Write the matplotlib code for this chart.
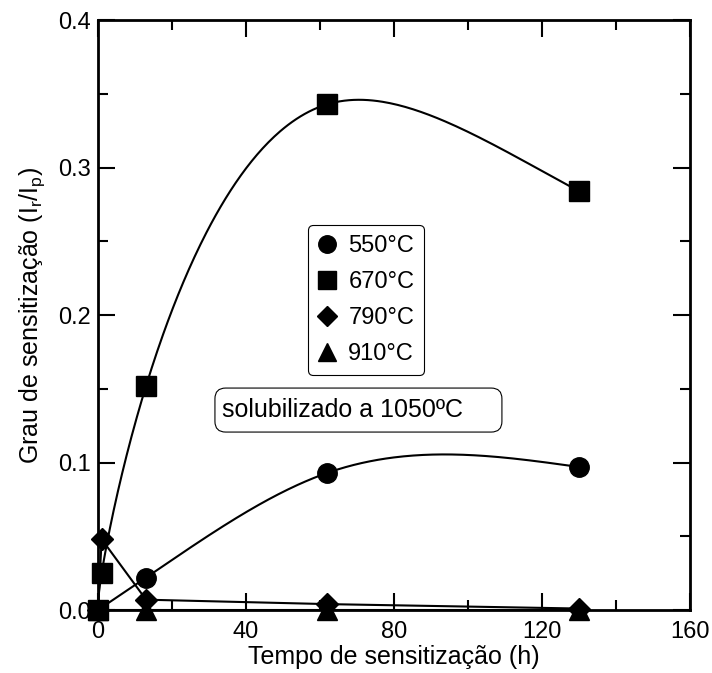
import numpy as np
import matplotlib
matplotlib.use('Agg')
import matplotlib.pyplot as plt
from matplotlib.patches import FancyBboxPatch
from matplotlib.ticker import MultipleLocator, FormatStrFormatter

plt.rcParams['font.family'] = ['Liberation Sans', 'DejaVu Sans']

# data
t_550 = [0, 13, 62, 130]
g_550 = [0.0, 0.022, 0.093, 0.097]
t_670 = [0, 1, 13, 62, 130]
g_670 = [0.0, 0.025, 0.152, 0.343, 0.284]
t_790 = [0, 1, 13, 62, 130]
g_790 = [0.0, 0.048, 0.007, 0.004, 0.001]
t_910 = [0, 13, 62, 130]
g_910 = [0.0, 0.0, 0.0, 0.0]
labels = ['550°C', '670°C', '790°C', '910°C']


def natural_spline(x, y, n=300):
    ''' smooth guide line through the points (natural cubic spline) '''
    x = np.asarray(x, float)
    y = np.asarray(y, float)
    k = len(x)
    h = np.diff(x)
    A = np.zeros((k, k))
    b = np.zeros(k)
    A[0, 0] = A[-1, -1] = 1
    for i in range(1, k - 1):
        A[i, i - 1] = h[i - 1]
        A[i, i] = 2 * (h[i - 1] + h[i])
        A[i, i + 1] = h[i]
        b[i] = 6 * ((y[i + 1] - y[i]) / h[i] - (y[i] - y[i - 1]) / h[i - 1])
    m = np.linalg.solve(A, b)
    xs = np.linspace(x[0], x[-1], n)
    idx = np.clip(np.searchsorted(x, xs) - 1, 0, k - 2)
    x0, x1 = x[idx], x[idx + 1]
    hh = x1 - x0
    a = (x1 - xs) / hh
    c = (xs - x0) / hh
    ys = (a * y[idx] + c * y[idx + 1]
          + ((a ** 3 - a) * m[idx] + (c ** 3 - c) * m[idx + 1]) * hh ** 2 / 6)
    return xs, ys


fig = plt.figure(figsize=(7.12, 6.73), dpi=100)
ax = fig.add_axes([0.1376, 0.0936, 0.8314, 0.8764])

ms = 14
kw = dict(color='black', linestyle='none', clip_on=False, zorder=5)

xs, ys = natural_spline(t_550, g_550)
ax.plot(xs, ys, color='black', lw=1.5)
ax.plot(t_550, g_550, marker='o', markersize=ms, label=labels[0], **kw)

# the 670 guide line is smoothed in sqrt(t) so it does not overshoot
us, ys = natural_spline(np.sqrt(t_670), g_670)
ax.plot(us ** 2, ys, color='black', lw=1.5)
ax.plot(t_670, g_670, marker='s', markersize=ms, label=labels[1], **kw)

ax.plot(t_790, g_790, color='black', lw=1.5)
ax.plot(t_790, g_790, marker='D', markersize=ms * 0.8, label=labels[2], **kw)

ax.plot(t_910, g_910, color='black', lw=1.5)
ax.plot(t_910, g_910, marker='^', markersize=ms, label=labels[3], **kw)

ax.set_xlim(0, 160)
ax.set_ylim(0, 0.4)
ax.xaxis.set_major_locator(MultipleLocator(40))
ax.xaxis.set_minor_locator(MultipleLocator(20))
ax.yaxis.set_major_locator(MultipleLocator(0.1))
ax.yaxis.set_minor_locator(MultipleLocator(0.05))
ax.yaxis.set_major_formatter(FormatStrFormatter('%.1f'))
ax.tick_params(which='both', direction='in', top=True, right=True,
               labelsize=17, width=1.5)
ax.tick_params(axis='x', pad=8)
ax.tick_params(axis='y', pad=5)
ax.tick_params(which='major', length=12)
ax.tick_params(which='minor', length=7)
for s in ax.spines.values():
    s.set_linewidth(2)

ax.set_xlabel('Tempo de sensitização (h)', fontsize=18, labelpad=1)
ax.set_ylabel(r'Grau de sensitização (I$_\mathregular{r}$/I$_\mathregular{p}$)',
              fontsize=18, labelpad=8)

leg = ax.legend(loc='upper left', bbox_to_anchor=(0.355, 0.652), fontsize=17,
                frameon=True, fancybox=True, edgecolor='black',
                handlelength=0.8, handletextpad=0.5, labelspacing=0.6,
                borderpad=0.4, borderaxespad=0, framealpha=1, markerscale=0.9)
leg.get_frame().set_linewidth(0.8)

# rounded box with the treatment note
box = FancyBboxPatch((0.1976, 0.3017), 0.4848, 0.0746,
                     boxstyle='round,pad=0,rounding_size=0.018',
                     transform=ax.transAxes, fc='white', ec='black', lw=0.8)
ax.add_patch(box)
ax.text(0.2095, 0.339, 'solubilizado a 1050ºC', fontsize=18, ha='left', va='center',
        transform=ax.transAxes)

fig.savefig('out.png', dpi=100)
